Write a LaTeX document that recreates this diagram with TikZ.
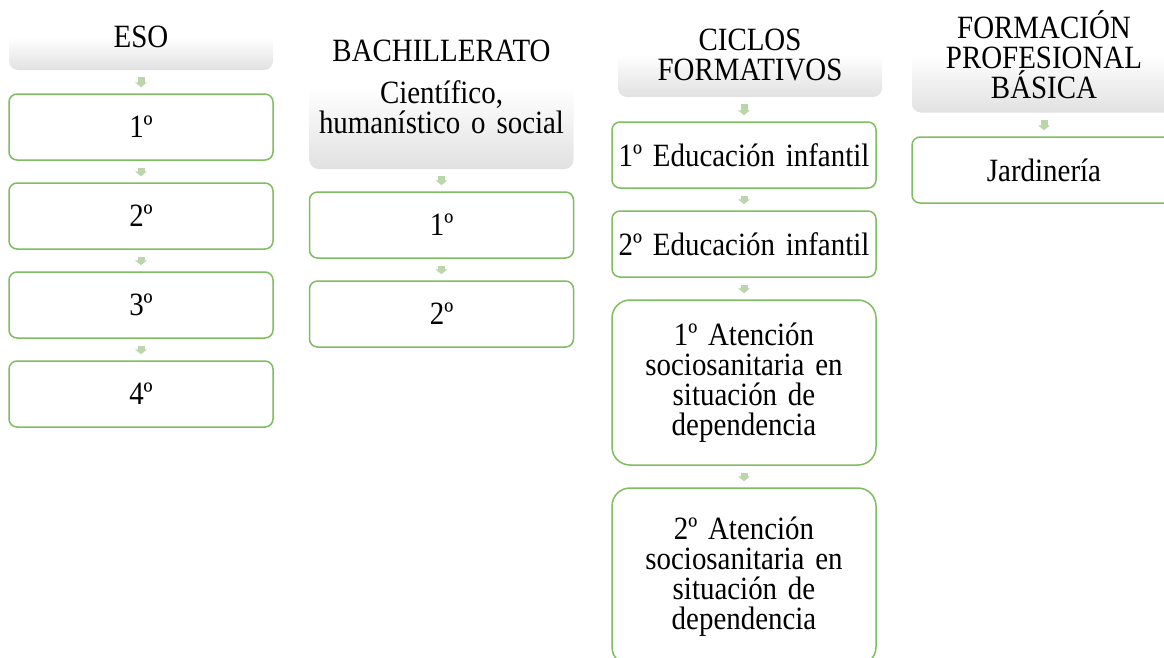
\documentclass[tikz,border=0pt]{standalone}
\usepackage{fontspec}
\setmainfont[FakeStretch=0.89,WordSpace=0.89]{Liberation Serif}
\usetikzlibrary{arrows.meta}
\definecolor{boxgreen}{RGB}{128,188,96}
\definecolor{arrowgreen}{RGB}{188,214,172}
\definecolor{headgray}{RGB}{225,225,225}
\tikzset{
	headbox/.style={rounded corners=9pt, top color=white, bottom color=headgray, middle color=white, minimum width=264pt, text width=256pt, align=center, inner sep=0pt, font=\fontsize{32.5pt}{30pt}\selectfont},
	stagebox/.style={draw=boxgreen, line width=1.5pt, rounded corners=8pt, fill=white, minimum width=264pt, minimum height=66pt, text width=256pt, align=center, inner sep=0pt, font=\fontsize{32.5pt}{30pt}\selectfont},
	tallbox/.style={stagebox, rounded corners=18pt},
	flowarrow/.style={arrowgreen, line width=7pt, -{Triangle[width=12pt,length=5pt]}, shorten <=7pt, shorten >=6pt}
}

\begin{document}
\begin{tikzpicture}[x=1pt,y=-1pt]
	%%%%% START %%%%%
	\useasboundingbox (0,0) rectangle (1164,657);
	
	% ESO
	\node[headbox, minimum height=65.4pt] (eso) at (141,37.3) {ESO};
	\node[stagebox] (eso1) at (141,127) {1º};
	\node[stagebox] (eso2) at (141,216) {2º};
	\node[stagebox] (eso3) at (141,305) {3º};
	\node[stagebox] (eso4) at (141,394) {4º};
	\draw[flowarrow] (eso) -- (eso1);
	\draw[flowarrow] (eso1) -- (eso2);
	\draw[flowarrow] (eso2) -- (eso3);
	\draw[flowarrow] (eso3) -- (eso4);
	
	% Bachillerato
	\node[headbox, minimum height=164pt] (bach) at (441.5,87) {BACHILLERATO\\[12pt]Científico,\\humanístico o social};
	\node[stagebox] (bach1) at (441.5,225) {1º};
	\node[stagebox] (bach2) at (441.5,314) {2º};
	\draw[flowarrow] (bach) -- (bach1);
	\draw[flowarrow] (bach1) -- (bach2);
	
	% Ciclos formativos
	\node[headbox, minimum height=85pt] (ciclos) at (750,54.5) {CICLOS\\FORMATIVOS};
	\node[stagebox] (ciclos1) at (744,155) {1º Educación infantil};
	\node[stagebox] (ciclos2) at (744,244) {2º Educación infantil};
	\node[tallbox, minimum height=165pt] (ciclos3) at (744,382.5) {1º Atención\\sociosanitaria en\\situación de\\dependencia};
	\node[tallbox, minimum height=177pt] (ciclos4) at (744,576.5) {2º Atención\\sociosanitaria en\\situación de\\dependencia};
	\draw[flowarrow] (ciclos.south -| ciclos1) -- (ciclos1);
	\draw[flowarrow] (ciclos1) -- (ciclos2);
	\draw[flowarrow] (ciclos2) -- (ciclos3);
	\draw[flowarrow] (ciclos3) -- (ciclos4);
	
	% Formacion profesional basica
	\node[headbox, minimum height=115pt] (fpb) at (1044,55) {FORMACIÓN\\PROFESIONAL\\BÁSICA};
	\node[stagebox] (fpb1) at (1044,170) {Jardinería};
	\draw[flowarrow] (fpb) -- (fpb1);
	
	%%%%% END %%%%%
\end{tikzpicture}
\end{document}
